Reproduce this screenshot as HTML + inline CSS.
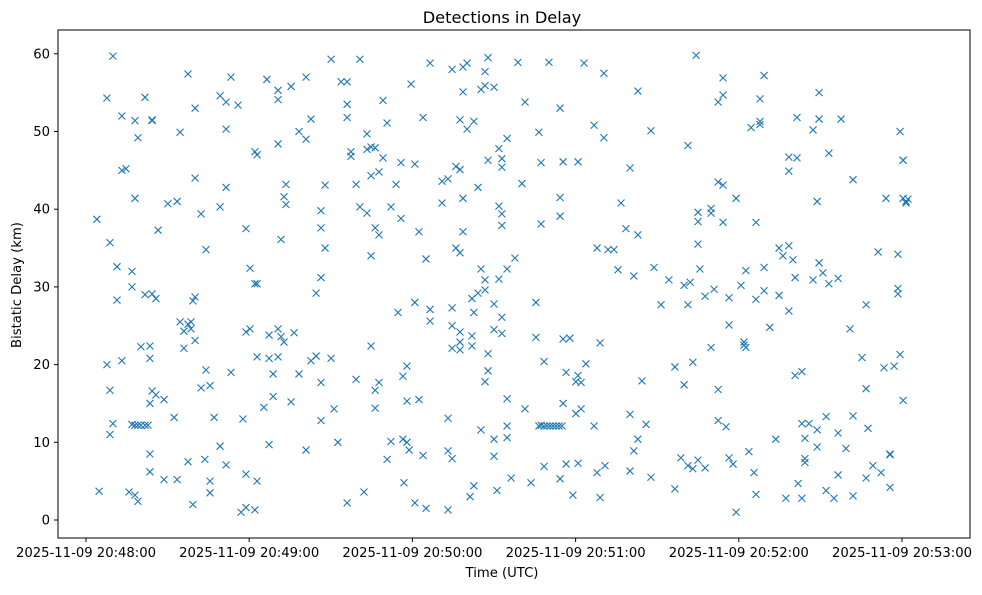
<!DOCTYPE html>
<html><head><meta charset="utf-8"><style>
body{margin:0;background:#fff;}
svg text{font-family:"DejaVu Sans","Liberation Sans",sans-serif;fill:#000;}
</style></head><body>
<svg id="chart" width="982" height="590" xmlns="http://www.w3.org/2000/svg">
<rect x="0" y="0" width="982" height="590" fill="#fff"/>
<text x="502" y="23" font-size="16.2" text-anchor="middle">Detections in Delay</text>
<text x="502" y="577" font-size="13.2" text-anchor="middle">Time (UTC)</text>
<text x="21" y="285" font-size="13.2" text-anchor="middle" transform="rotate(-90 21 285)">Bistatic Delay (km)</text>
<g id="marks"></g>
<rect x="58" y="30" width="912" height="508" fill="none" stroke="#000" stroke-width="1"/>
<g id="axes"></g>
</svg>
<script>
const xTickSeconds=[0,60,120,180,240,300];
const xTickLabels=["2025-11-09 20:48:00","2025-11-09 20:49:00","2025-11-09 20:50:00","2025-11-09 20:51:00","2025-11-09 20:52:00","2025-11-09 20:53:00"];
const yTickValues=[0,10,20,30,40,50,60];
const sampleTimes=[4.0,4.8,7.7,8.8,9.9,11.4,13.2,14.7,15.8,16.9,18.0,19.1,20.2,21.7,22.8,23.5,24.3,25.7,26.5,28.7,30.1,32.4,33.5,34.6,36.0,37.5,38.6,39.3,40.1,42.3,43.7,44.1,45.6,47.1,49.3,51.5,53.3,55.9,57.0,57.7,58.8,60.3,62.1,62.9,65.4,66.5,67.3,68.8,70.6,71.7,72.8,73.5,75.4,76.5,78.3,80.9,82.7,84.6,86.4,87.9,90.1,91.2,92.6,93.8,96.0,97.4,99.3,100.7,102.2,103.3,104.8,106.3,107.7,109.2,110.7,112.1,114.0,114.7,115.8,116.5,116.9,118.0,118.8,119.5,120.9,122.4,123.9,125.0,126.5,130.9,133.1,134.6,136.0,137.5,138.6,140.1,141.2,141.9,142.6,144.1,145.2,146.7,147.8,150.0,151.1,151.8,152.9,154.8,156.3,157.7,158.8,160.3,161.4,163.6,165.4,166.5,167.3,168.4,169.5,170.2,170.6,171.7,172.8,173.9,174.3,175.0,175.4,176.5,177.9,179.0,180.1,180.9,182.0,183.1,183.8,186.8,187.9,189.0,190.4,190.8,191.9,194.1,195.6,196.7,198.5,200.0,201.4,202.9,204.4,205.9,207.7,208.8,211.4,214.3,216.5,218.7,219.9,221.3,222.1,223.1,224.3,225.0,225.7,227.6,229.8,230.9,232.4,234.2,235.3,236.4,237.9,239.0,240.8,241.9,242.6,243.7,244.5,245.6,246.3,247.8,249.3,251.4,253.6,254.8,256.2,257.3,258.4,259.9,260.7,261.4,261.8,263.2,264.3,265.8,267.3,268.8,269.5,270.9,272.1,273.1,275.0,276.5,277.6,279.4,280.9,282.0,285.3,286.8,287.5,289.3,291.2,292.3,293.4,294.1,295.6,297.1,298.5,299.3,300.4,301.5,302.2];
const sampleDelays=[[38.7],[3.7],[54.3,20.0],[35.7,16.7,11.0],[59.7,12.4],[32.6,28.3],[52.0,45.0,20.5],[45.2],[3.6],[32.0,30.0,12.3],[51.4,41.4,3.2,12.2],[49.2,12.2,2.4],[12.2,22.3],[54.4,29.0,12.2],[12.2],[22.4,20.8,15.0,8.5,6.2],[51.5,51.4,29.1,16.6],[28.5,16.1],[37.3],[15.5,5.2],[40.7],[13.2],[41.0,5.2],[49.9,25.5],[24.3,22.1],[57.4,25.2,7.5],[25.5,24.6],[28.2,2.0],[53.0,44.0,28.7,23.1],[39.4,17.0],[7.8],[34.8,19.3],[17.3,5.0,3.5],[13.2],[54.6,40.3,9.5],[53.8,50.3,42.8,7.1],[57.0,19.0],[53.4],[1.0],[13.0],[37.5,24.2,5.9,1.6],[32.4,24.6],[30.4,47.4,1.3],[30.4,47.0,21.0,5.0],[14.5],[56.7],[23.8,20.8,9.7],[18.8,15.9],[55.3,54.1,48.4,24.6,21.0],[36.1,23.6],[41.6,22.9],[43.2,40.6],[55.8,15.2],[24.1],[50.0,18.8],[57.0,49.0,9.0],[51.6,20.5],[29.2,21.1],[39.8,37.6,31.2,17.7,12.8],[43.1,35.0],[59.3,20.8],[14.3],[10.0],[56.4],[56.4,53.5,51.8,2.2],[47.4,46.8],[43.2,18.1],[59.3,40.3],[3.6],[49.7,47.7,39.5],[48.0,44.3,34.0,22.4],[47.9,37.6,16.7,14.4],[44.8,36.7,17.7],[54.0,46.6],[51.1,7.8],[40.3,10.1],[43.2],[26.7],[46.0,38.8],[18.5,10.4],[4.8],[19.8,15.3,10.0],[9.0],[56.1],[45.8,28.0,2.2],[37.1,15.5],[51.8,8.3],[33.6,1.5],[58.8,27.1,25.6],[43.6,40.8],[43.9,13.1,8.9,1.3],[58.0,25.0,22.1,27.3,7.9],[45.5,35.0],[51.5,45.1,34.4,24.2,22.9,21.9],[58.3,55.1,41.4,37.1],[58.8,50.3],[3.0],[28.5,23.7,22.4],[51.3,26.7,4.4],[42.8,29.2],[55.4,32.3,11.6],[57.7,55.9,30.9,29.6,17.8],[59.5,46.3,21.4,19.2],[55.7,27.8,24.5,10.4,8.2],[3.8],[47.8,40.4,31.0],[46.5,45.4,39.4,37.9,26.1,24.0],[49.1,32.3,15.6,12.1,10.6],[5.4],[33.7],[58.9],[43.3],[53.8,14.3],[4.8],[28.0,23.5],[49.9,12.1],[46.0,38.1,12.2],[20.4,12.1,6.9],[12.1],[58.9],[12.1],[12.1],[12.1],[12.1],[53.0,41.5,39.1,5.3],[12.1],[46.1,23.3,15.0],[19.0,7.2],[23.4],[3.2],[17.8,13.7],[46.1,18.6,7.3],[14.3,17.7],[58.8],[20.1],[50.8,12.1],[35.0,6.1],[2.9,22.8],[57.5,49.2],[7.0],[34.8],[34.8],[32.2],[40.8],[37.5],[45.3,13.6,6.3],[31.4,8.9],[55.2,36.7,10.4],[17.9],[12.3],[50.1,5.5],[32.5],[27.7],[30.9],[19.7,4.0],[8.0],[17.4,30.2],[48.2,27.7,7.0],[30.6],[20.3,6.6],[59.8],[39.6,38.4,35.5,7.7],[32.3],[28.8,6.7],[22.2,39.5,40.1],[29.7],[53.8,43.5,16.8,12.8],[56.9,54.7,43.1,38.3],[12.0],[28.6,25.1,8.0],[7.2],[41.4,1.0],[30.2],[22.9,22.5],[32.1,22.2],[8.8],[50.5],[6.1],[38.3,28.4,3.3],[54.2,51.3,50.9],[57.2,29.5,32.5],[24.8],[10.4],[28.9,35.0],[34.0],[2.8],[46.7,35.3,26.9,44.9],[33.5],[31.2,18.6],[51.8,46.6],[4.7],[19.1,12.4,2.8],[10.5,7.9,7.4],[12.4],[30.9,50.2],[41.0,11.6,9.4],[55.0,51.6,33.1],[31.8],[3.8,13.3],[47.2,30.4],[2.8],[31.1,11.2,5.8],[51.6],[9.2],[24.6],[43.8,13.4,3.1],[20.9],[27.7,16.9,5.4],[11.8],[7.0],[34.5],[6.1],[19.6],[41.4],[8.4,8.5,4.2],[19.8],[34.2,29.8,29.1],[50.0,21.3],[46.3,46.3,41.4,15.4],[40.8,41.0],[41.3]];

const NS="http://www.w3.org/2000/svg";
function xScale(t){return 86+t*2.72;}
function yScale(v){return 520-v*7.77;}
const marks=document.getElementById('marks');
const axes=document.getElementById('axes');
function mk(tag,attrs,parent){const e=document.createElementNS(NS,tag);for(const k in attrs)e.setAttribute(k,attrs[k]);parent.appendChild(e);return e;}
sampleTimes.forEach((t,i)=>{
  sampleDelays[i].forEach(v=>{
    const cx=xScale(t),cy=yScale(v),s=3.5;
    const p=mk('path',{d:`M${cx-s},${cy-s}L${cx+s},${cy+s}M${cx-s},${cy+s}L${cx+s},${cy-s}`,stroke:'#1f77b4','stroke-width':1.1,fill:'none'},marks);
    
    
  });
});
xTickSeconds.forEach((t,i)=>{
  const x=xScale(t);
  const l=mk('line',{x1:x,x2:x,y1:538,y2:542,stroke:'#000'},axes);
  
  
  const tx=mk('text',{x:x,y:557,'font-size':13.2,'text-anchor':'middle'},axes);
  tx.textContent=xTickLabels[i];
  
  
});
yTickValues.forEach(v=>{
  const y=yScale(v);
  const l=mk('line',{x1:54,x2:58,y1:y,y2:y,stroke:'#000'},axes);
  
  
  const tx=mk('text',{x:50,y:y+4.5,'font-size':13.2,'text-anchor':'end'},axes);
  tx.textContent=String(v);
  
  
});
</script>
</body></html>
